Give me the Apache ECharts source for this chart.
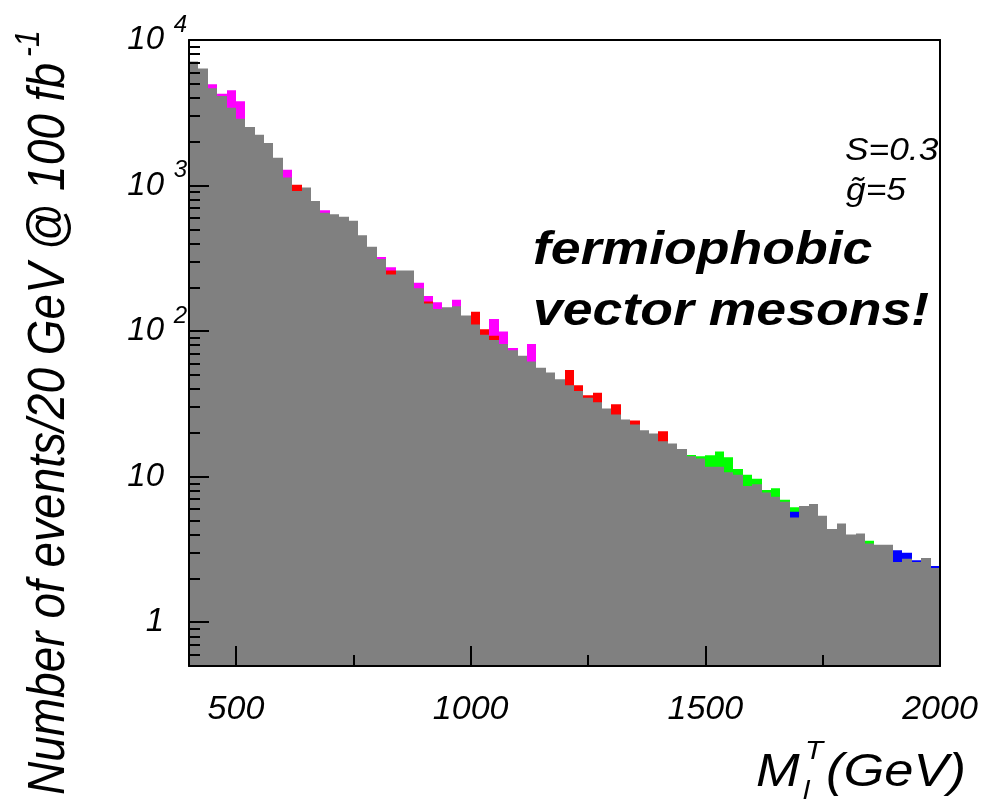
<!DOCTYPE html>
<html><head><meta charset="utf-8">
<script src="https://cdn.jsdelivr.net/npm/echarts@6/dist/echarts.min.js"></script>
<style>html,body{margin:0;padding:0;background:#fff}#c{width:985px;height:803px}</style>
</head><body><div id="c"></div>
<script>
// ---- data ----
const binStart = 400;
const binWidth = 20;
const yMin = 0.5;
const yMax = 10000;
// gray background histogram (one value per 20 GeV bin, 400..2000)
const background = [
  7130, 6370, 4660, 4120, 3430, 2880, 2520, 2230, 1960, 1550,
  1135, 919, 968, 782, 650, 634, 611, 573, 456, 379,
  313, 245, 261, 261, 197, 155, 142, 146, 148, 128,
  111, 94.4, 86.8, 81.4, 74, 67.6, 61.8, 56.1, 51.9, 46.7,
  42.4, 38.7, 34.8, 32.5, 29.4, 26.7, 24.7, 22.8, 20.8, 19.8,
  17.5, 16.9, 15.5, 13.8, 13.3, 11.7, 11.7, 10.7, 10.3, 8.64,
  8.86, 7.77, 7.28, 6.73, 5.24, 6.29, 6.49, 5.39, 4.36, 4.76,
  4.00, 4.06, 3.47, 3.41, 3.41, 2.59, 2.73, 2.59, 2.76, 2.36
];
// signal+background totals where they show above the gray ([bin lower edge, value])
const magentaTotals = [[440,4960],[460,4280],[480,4510],[500,3790],[600,1283],[680,676],[800,323],[820,275],[880,215],[900,174],[920,158],[960,164],[1040,121],[1060,99.5],[1080,76.4],[1120,81.4]];
const redTotals = [[620,1011],[820,261],[900,160],[1000,136],[1020,103],[1040,92.9],[1200,54.1],[1220,42.4],[1240,36.2],[1260,37.7],[1300,31.4],[1340,24.3],[1400,20.5]];
const greenTotals = [[1460,14.1],[1480,13.8],[1500,14.0],[1520,14.9],[1540,13.6],[1560,11.3],[1580,10.3],[1600,9.66],[1620,8.11],[1640,8.32],[1660,6.95],[1680,6.15],[1840,3.62]];
const blueTotals = [[1680,5.74],[1900,3.12],[1920,3.00],[1940,2.66],[1980,2.43]];

const xMajorTicks = [500, 1000, 1500, 2000];
const xMinorTicks = [750, 1250, 1750];
const yMajorTicks = [1, 10, 100, 1000, 10000];
const yMajorBase = ['1', '10', '10', '10', '10'];
const yMajorExp = ['', '', '2', '3', '4'];
const yMinorTicks = [0.6,0.7,0.8,0.9, 2,3,4,5,6,7,8,9, 20,30,40,50,60,70,80,90, 200,300,400,500,600,700,800,900, 2000,3000,4000,5000,6000,7000,8000,9000];

const FONT = 'Liberation Sans';
const SX = 1.14; // horizontal stretch of the original figure's text
const chart = echarts.init(document.getElementById('c'), null, {renderer: 'canvas'});

function histItem(params, api) {
  const x0 = api.value(0);
  const v = api.value(1);
  const p0 = api.coord([x0, v]);
  const p1 = api.coord([x0 + binWidth, yMin]);
  const left = Math.round(p0[0]);
  const right = Math.round(p1[0]);
  return {
    type: 'rect',
    shape: {x: left, y: p0[1], width: right - left, height: p1[1] - p0[1]},
    style: {fill: api.visual('color')}
  };
}
function histSeries(name, data, color) {
  return {
    name, type: 'custom', renderItem: histItem, data, clip: true,
    xAxisIndex: 0, yAxisIndex: 0, itemStyle: {color}, encode: {x: 0, y: 1}, z: 2
  };
}
function txt(x, y, text, size, extra) {
  return Object.assign({type: 'text', x, y, z: 20, scaleX: SX,
    style: Object.assign({text, fontSize: size, fontStyle: 'italic', fontFamily: FONT, fill: '#000',
      textAlign: 'left', textVerticalAlign: 'middle'}, extra || {})});
}

const lineBlack = {color: '#000', width: 2};
const option = {
  animation: false,
  backgroundColor: '#fff',
  grid: {left: 189, right: 45, top: 40, bottom: 137, containLabel: false},
  xAxis: [
    {type: 'value', min: 400, max: 2000, position: 'bottom', z: 10,
     axisLine: {show: true, onZero: false, lineStyle: lineBlack},
     axisTick: {show: true, inside: true, length: 20, customValues: xMajorTicks, lineStyle: lineBlack},
     axisLabel: {show: true, customValues: xMajorTicks, margin: 27, fontSize: 34, fontStyle: 'italic', fontFamily: FONT, color: '#000',
       formatter: v => String(v)},
     splitLine: {show: false}},
    {type: 'value', min: 400, max: 2000, position: 'bottom', z: 10,
     axisLine: {show: false},
     axisTick: {show: true, inside: true, length: 11, customValues: xMinorTicks, lineStyle: lineBlack},
     axisLabel: {show: false}, splitLine: {show: false}},
    {type: 'value', min: 400, max: 2000, position: 'top', z: 10,
     axisLine: {show: true, onZero: false, lineStyle: lineBlack},
     axisTick: {show: false}, axisLabel: {show: false}, splitLine: {show: false}}
  ],
  yAxis: [
    {type: 'log', logBase: 10, min: yMin, max: yMax, position: 'left', z: 10,
     axisLine: {show: true, onZero: false, lineStyle: lineBlack},
     axisTick: {show: true, inside: true, length: 20, customValues: yMajorTicks, lineStyle: lineBlack},
     axisLabel: {show: true, customValues: yMajorTicks, margin: 2,
       formatter: function (v) {
         const i = yMajorTicks.findIndex(t => Math.abs(t - v) / t < 1e-6);
         if (i < 0) return '';
         const e = yMajorExp[i];
         return '{b|' + yMajorBase[i] + '}' + (e ? '{s|' + e + '}' : '{e| }');
       },
       rich: {
         b: {fontSize: 33, fontStyle: 'italic', fontFamily: FONT, color: '#000'},
         s: {fontSize: 24, fontStyle: 'italic', fontFamily: FONT, color: '#000', width: 14, padding: [0, 0, 30, 9]},
         e: {fontSize: 24, width: 23}
       }},
     splitLine: {show: false}},
    {type: 'log', logBase: 10, min: yMin, max: yMax, position: 'left', z: 10,
     axisLine: {show: false},
     axisTick: {show: true, inside: true, length: 11, customValues: yMinorTicks, lineStyle: lineBlack},
     axisLabel: {show: false}, splitLine: {show: false}},
    {type: 'log', logBase: 10, min: yMin, max: yMax, position: 'right', z: 10,
     axisLine: {show: true, onZero: false, lineStyle: lineBlack},
     axisTick: {show: false}, axisLabel: {show: false}, splitLine: {show: false}}
  ],
  series: [
    histSeries('magenta', magentaTotals, '#ff00ff'),
    histSeries('red', redTotals, '#ff0000'),
    histSeries('green', greenTotals, '#00ff00'),
    histSeries('blue', blueTotals, '#0000ff'),
    histSeries('background', background.map((v, i) => [binStart + i * binWidth, v]), '#808080')
  ],
  graphic: [
    {type: 'text', x: 49, y: 795, rotation: Math.PI / 2, z: 20, scaleY: SX,
     style: {text: '{t|Number of events/20 GeV @ 100 fb}{s|-1}', textAlign: 'left', textVerticalAlign: 'middle',
       rich: {
         t: {fontSize: 46, fontStyle: 'italic', fontFamily: FONT, fill: '#000'},
         s: {fontSize: 30, fontStyle: 'italic', fontFamily: FONT, fill: '#000', padding: [0, 0, 34, 6]}
       }}},
    txt(756, 773, 'M', 46),
    txt(805, 752, 'T', 26),
    txt(803, 792, 'l', 26),
    txt(826, 773, '(GeV)', 46),
    txt(845, 151, 'S=0.3', 31),
    txt(846, 191, 'g\u0303=5', 31),
    txt(533, 251, 'fermiophobic', 47, {fontWeight: 'bold'}),
    txt(533, 312, 'vector mesons!', 47, {fontWeight: 'bold'})
  ]
};
chart.setOption(option);
</script>
</body></html>
